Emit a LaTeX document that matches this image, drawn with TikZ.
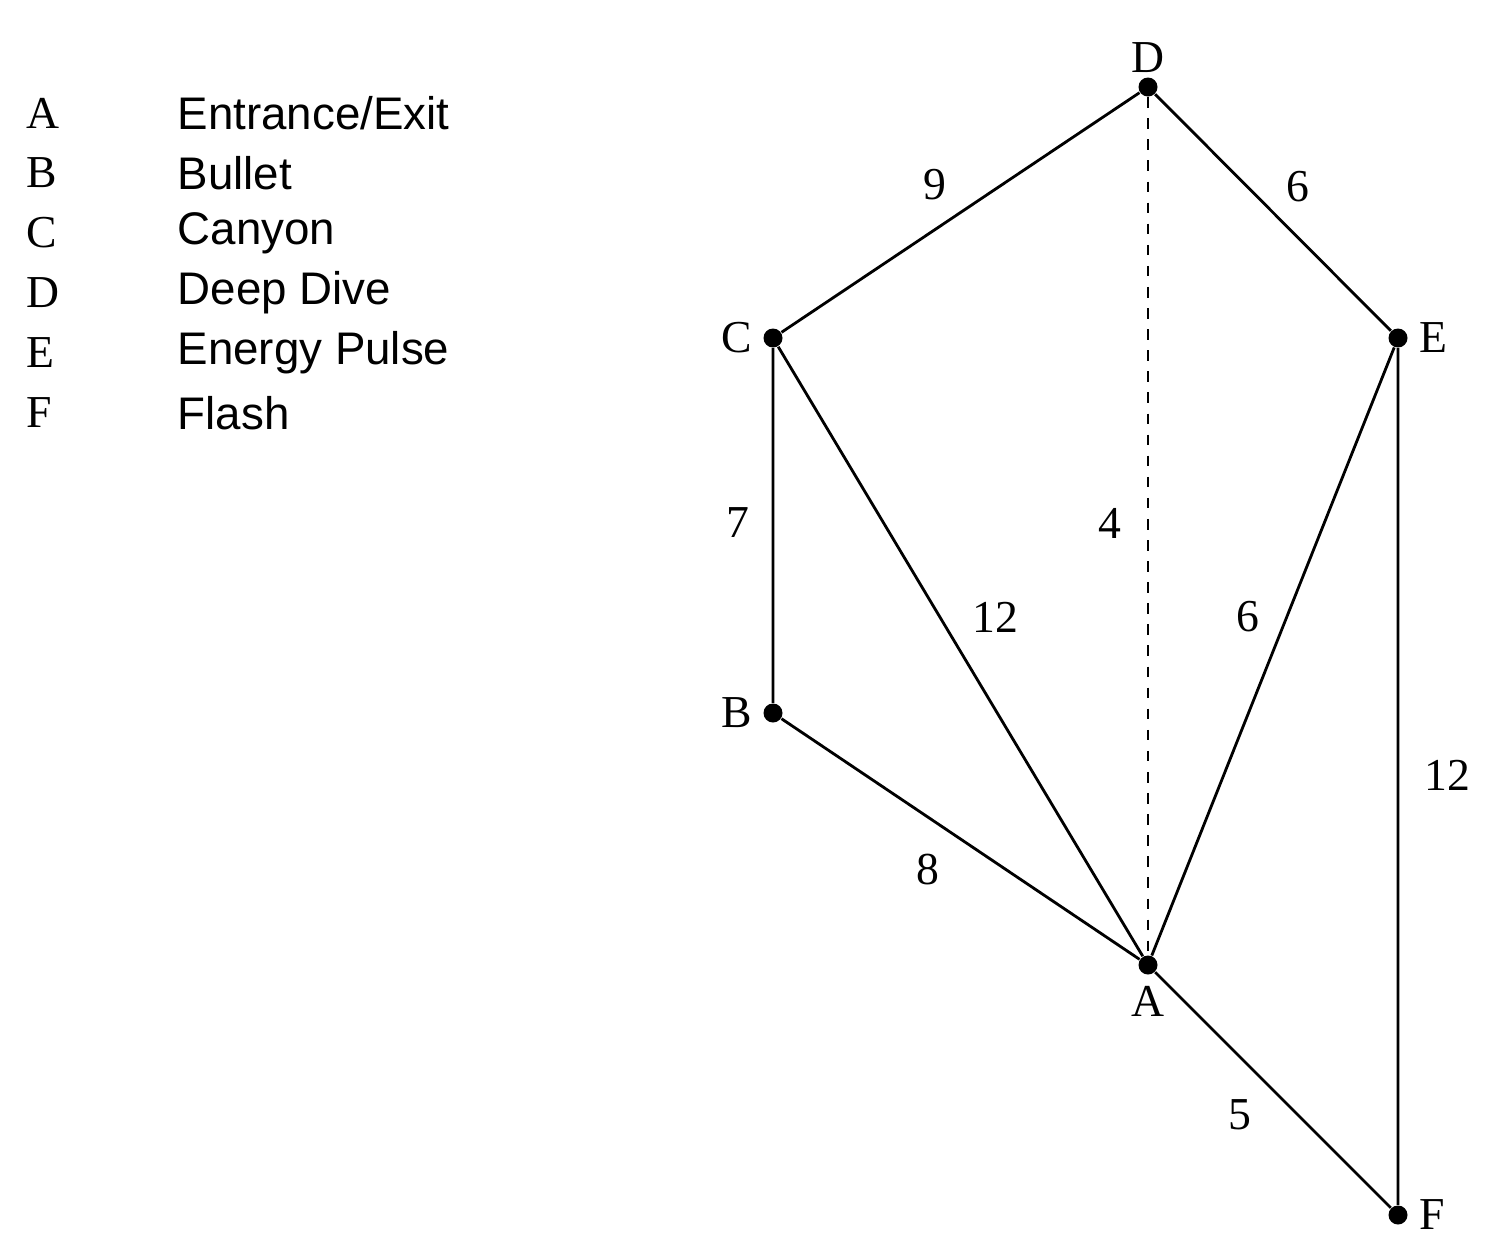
\documentclass[tikz,border=0pt]{standalone}
\usepackage{fontspec}
\setmainfont{Liberation Serif}
\setsansfont{Liberation Sans}
\begin{document}
\begin{tikzpicture}[x=0.1mm, y=-0.1mm, font=\fontsize{13}{15}\selectfont]

\tikzset{vertex/.style = {shape=circle,fill,inner sep=0pt,minimum size=1.9mm}}
\tikzset{edge/.style = {line width=0.8pt}}
\useasboundingbox (0,0) rectangle (1490,1254);
% vertices
\node[vertex,label={[inner sep=1pt]above:D}] (d) at (1148,87) {};
\node[vertex,label={[inner sep=3pt]left:C}] (c) at (773,338) {};
\node[vertex,label={[inner sep=3pt]right:E}] (e) at (1398,338) {};
\node[vertex,label={[inner sep=3pt]left:B}] (b) at (773,713) {};
\node[vertex,label={[inner sep=3pt]below:A}] (a) at (1148,965) {};
\node[vertex,label={[inner sep=3pt]right:F}] (f) at (1398,1215) {};
% edges
\draw[edge] (c) -- (d) (d) -- (e) (c) -- (b) (c) -- (a) (e) -- (a)
  (b) -- (a) (a) -- (f) (e) -- (f);
\draw[edge, dashed, line width=0.5pt] (d) -- (a);
% weights
\node (w1) at (935,185) {9};
\node (w2) at (1298,187) {6};
\node (w3) at (738,523) {7};
\node (w4) at (1110,523) {4};
\node (w5) at (995,617) {12};
\node (w6) at (1248,617) {6};
\node (w7) at (1447,775) {12};
\node (w8) at (928,870) {8};
\node (w9) at (1240,1115) {5};
% legend
\foreach \l/\t [count=\i from 0] in {A/Entrance\slash Exit, B/Bullet, C/Canyon, D/Deep Dive, E/Energy Pulse, F/Flash} {
  \node[anchor=west, inner sep=0pt] (k\l) at (26,113+60*\i) {\l};
  \node[anchor=west, inner sep=0pt, font=\fontsize{13}{15}\sffamily] (n\l) at (177,113+60*\i) {\t};
}
\end{tikzpicture}
\end{document}
